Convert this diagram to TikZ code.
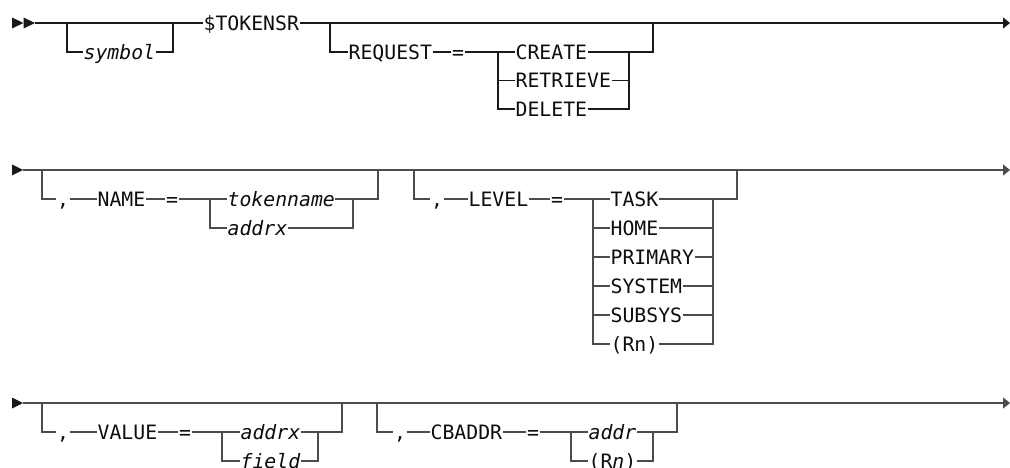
\documentclass[tikz,border=0pt]{standalone}
\usepackage{fontspec}
\setmonofont{DejaVu Sans Mono}[ItalicFont={DejaVu Sans Mono Oblique}]
\usetikzlibrary{arrows.meta}
\begin{document}
\begin{tikzpicture}[x=1pt,y=-1pt,
  lbl/.style={font=\ttfamily\fontsize{19.8}{20}\selectfont, inner xsep=0.4pt, inner ysep=0pt,
    text height=14.8pt, text depth=0pt, anchor=west, text=black!95},
  ctr/.style={lbl, anchor=center},
  ln/.style={line width=1.3pt, draw=black!90},
  lng/.style={line width=1.3pt, draw=black!70},
  endtip/.style={-{Triangle[length=7pt,width=11pt]}},
  tipfill/.style={fill=black!90}]
\useasboundingbox (0,0) rectangle (1010,468);

% ---------------- Row 1 ----------------
\fill[tipfill] (12,17.5) -- (23.5,23) -- (12,28.5) -- cycle;
\fill[tipfill] (23.5,17.5) -- (35,23) -- (23.5,28.5) -- cycle;
\coordinate (s1) at (35,23);
\coordinate (e1) at (1010,23);
\node[lbl] (sym) at (83,52) {\itshape symbol};
\node[lbl] (tok) at (203,23) {\$TOKENSR};
\coordinate (b1a) at (67,23);
\coordinate (b1b) at (173,23);
\draw[ln] (s1) -- (tok);
\draw[ln] (b1a) |- (sym) -| (b1b);
\draw[ln,endtip] (tok) -- (e1);

\node[lbl] (req) at (348,52) {REQUEST};
\node[ctr] (eq1) at (458,52) {=};
\node[lbl] (create) at (515,52) {CREATE};
\node[lbl] (retrieve) at (515,80.5) {RETRIEVE};
\node[lbl] (delete) at (515,109) {DELETE};
\coordinate (b1c) at (330,23);
\coordinate (b1d) at (653,23);
\coordinate (ch1L) at (498,52);
\coordinate (ch1R) at (629,52);
\draw[ln] (b1c) |- (req);
\draw[ln] (req) -- (eq1);
\draw[ln] (eq1) -- (create);
\draw[ln] (ch1L) |- (retrieve);
\draw[ln] (ch1L) |- (delete);
\draw[ln] (create) -- (ch1R) -| (b1d);
\draw[ln] (retrieve) -| (ch1R);
\draw[ln] (delete) -| (ch1R);

% ---------------- Row 2 ----------------
\fill[tipfill] (12,164.5) -- (23,170) -- (12,175.5) -- cycle;
\coordinate (s2) at (23,170);
\coordinate (e2) at (1010,170);
\draw[lng,endtip] (s2) -- (e2);

\node[ctr] (c2a) at (63,199) {,};
\node[lbl] (name) at (97,199) {NAME};
\node[ctr] (eq2a) at (172,199) {=};
\node[lbl] (tokname) at (227,199) {\itshape tokenname};
\node[lbl] (addrx1) at (227,228) {\itshape addrx};
\coordinate (b2a) at (42,170);
\coordinate (b2b) at (378,170);
\coordinate (ch2L) at (210,199);
\coordinate (ch2R) at (353,199);
\draw[lng] (b2a) |- (c2a);
\draw[lng] (c2a) -- (name);
\draw[lng] (name) -- (eq2a);
\draw[lng] (eq2a) -- (tokname);
\draw[lng] (ch2L) |- (addrx1);
\draw[lng] (tokname) -- (ch2R) -| (b2b);
\draw[lng] (addrx1) -| (ch2R);

\node[ctr] (c2b) at (437,199) {,};
\node[lbl] (level) at (468,199) {LEVEL};
\node[ctr] (eq2b) at (557,199) {=};
\node[lbl] (task) at (610,199) {TASK};
\node[lbl] (home) at (610,228) {HOME};
\node[lbl] (primary) at (610,257) {PRIMARY};
\node[lbl] (system) at (610,286) {SYSTEM};
\node[lbl] (subsys) at (610,315) {SUBSYS};
\node[lbl] (rn1) at (610,344) {(Rn)};
\coordinate (b2c) at (414,170);
\coordinate (b2d) at (737,170);
\coordinate (ch3L) at (593,199);
\coordinate (ch3R) at (713,199);
\draw[lng] (b2c) |- (c2b);
\draw[lng] (c2b) -- (level);
\draw[lng] (level) -- (eq2b);
\draw[lng] (eq2b) -- (task);
\draw[lng] (ch3L) |- (home);
\draw[lng] (ch3L) |- (primary);
\draw[lng] (ch3L) |- (system);
\draw[lng] (ch3L) |- (subsys);
\draw[lng] (ch3L) |- (rn1);
\draw[lng] (task) -- (ch3R) -| (b2d);
\draw[lng] (home) -| (ch3R);
\draw[lng] (primary) -| (ch3R);
\draw[lng] (system) -| (ch3R);
\draw[lng] (subsys) -| (ch3R);
\draw[lng] (rn1) -| (ch3R);

% ---------------- Row 3 ----------------
\fill[tipfill] (12,397.5) -- (23,403) -- (12,408.5) -- cycle;
\coordinate (s3) at (23,403);
\coordinate (e3) at (1010,403);
\draw[lng,endtip] (s3) -- (e3);

\node[ctr] (c3a) at (63,432) {,};
\node[lbl] (value) at (97,432) {VALUE};
\node[ctr] (eq3a) at (185,432) {=};
\node[lbl] (addrx2) at (240,432) {\itshape addrx};
\node[lbl] (field) at (240,461) {\itshape field};
\coordinate (b3a) at (42,403);
\coordinate (b3b) at (342,403);
\coordinate (ch4L) at (222,432);
\coordinate (ch4R) at (318,432);
\draw[lng] (b3a) |- (c3a);
\draw[lng] (c3a) -- (value);
\draw[lng] (value) -- (eq3a);
\draw[lng] (eq3a) -- (addrx2);
\draw[lng] (ch4L) |- (field);
\draw[lng] (addrx2) -- (ch4R) -| (b3b);
\draw[lng] (field) -| (ch4R);

\node[ctr] (c3b) at (400,432) {,};
\node[lbl] (cbaddr) at (430,432) {CBADDR};
\node[ctr] (eq3b) at (533,432) {=};
\node[lbl] (addr) at (588,432) {\itshape addr};
\node[lbl] (rn2) at (588,461) {(R\textit{n})};
\coordinate (b3c) at (377,403);
\coordinate (b3d) at (677,403);
\coordinate (ch5L) at (571,432);
\coordinate (ch5R) at (653,432);
\draw[lng] (b3c) |- (c3b);
\draw[lng] (c3b) -- (cbaddr);
\draw[lng] (cbaddr) -- (eq3b);
\draw[lng] (eq3b) -- (addr);
\draw[lng] (ch5L) |- (rn2);
\draw[lng] (addr) -- (ch5R) -| (b3d);
\draw[lng] (rn2) -| (ch5R);
\end{tikzpicture}
\end{document}
